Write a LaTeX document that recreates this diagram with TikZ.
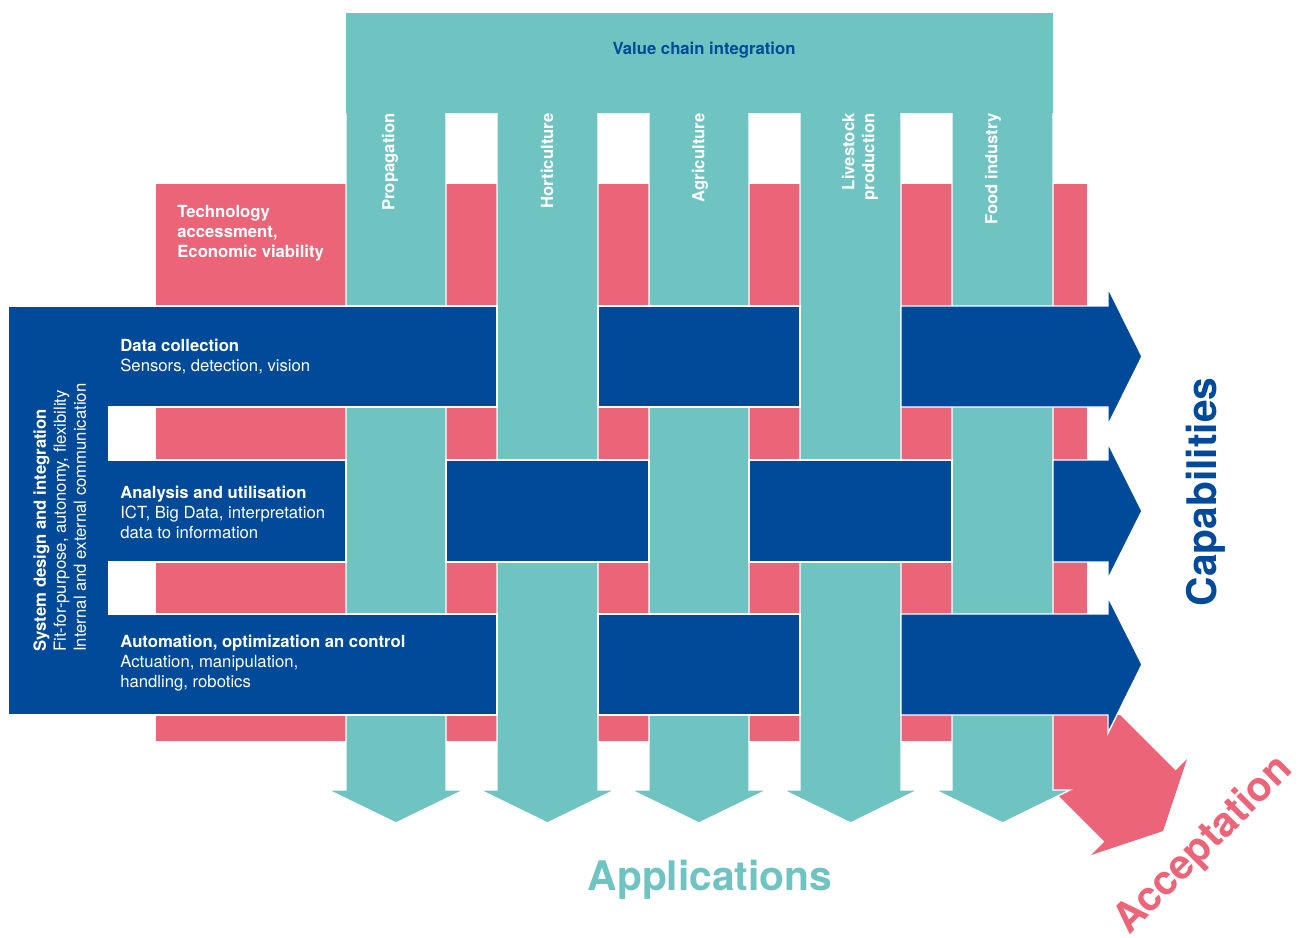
\documentclass[tikz,border=0pt]{standalone}
\usepackage{fontspec}
\setmainfont{TeX Gyre Heros}
\usepackage{tikz}
\definecolor{tealband}{RGB}{111,196,194}
\definecolor{navyband}{RGB}{0,74,153}
\definecolor{roseband}{RGB}{236,100,120}

\begin{document}
\begin{tikzpicture}[x=0.02cm,y=-0.02cm,
    rosepart/.style={fill=roseband,draw=white,line width=0.8pt},
    tealpart/.style={fill=tealband,draw=white,line width=0.8pt},
    navypart/.style={fill=navyband,draw=white,line width=0.8pt},
    collabel/.style={rotate=90,anchor=east,inner sep=0pt,text=white,align=right,font=\bfseries\fontsize{9.5}{11.4}\selectfont},
    rowtext/.style={anchor=west,inner sep=0pt,text=white,align=left,font=\fontsize{9.5}{11.4}\selectfont},
    bigtitle/.style={inner sep=0pt,font=\bfseries\fontsize{23.2}{28}\selectfont}]
    \useasboundingbox (0,0) rectangle (1305,937);
    %
    \path[rosepart] (155,183) rectangle (1088,742);
    \path[fill=roseband] (1053,715) -- (1120,715) -- (1175.5,770.5) -- (1187,759) -- (1163,831)
        -- (1091,855) -- (1104.5,841.5) -- (1053,790) -- cycle;
    %
    \path[tealpart] (346,13) -- (446,13) -- (446,790) -- (464,790) -- (396,823) -- (328,790) -- (346,790) -- cycle;
    \path[tealpart] (497,13) -- (598,13) -- (598,790) -- (615,790) -- (547.5,823) -- (480,790) -- (497,790) -- cycle;
    \path[tealpart] (649,13) -- (749,13) -- (749,790) -- (767,790) -- (699,823) -- (631,790) -- (649,790) -- cycle;
    \path[tealpart] (800,13) -- (901,13) -- (901,790) -- (918,790) -- (850.5,823) -- (783,790) -- (800,790) -- cycle;
    \path[tealpart] (952,13) -- (1053,13) -- (1053,790) -- (1070,790) -- (1002.5,823) -- (935,790) -- (952,790) -- cycle;
    \path[fill=tealband] (346,13) rectangle (1053,113);
    %
    \path[navypart] (8,306) -- (497,306) -- (497,407) -- (109,407) -- (109,460) -- (346,460) -- (346,562)
        -- (109,562) -- (109,614) -- (497,614) -- (497,715) -- (8,715) -- cycle;
    \path[navypart] (598,306) rectangle (800,407);
    \path[navypart] (901,306) -- (1108,306) -- (1108,288) -- (1142,356.5) -- (1108,425) -- (1108,407) -- (901,407) -- cycle;
    \path[navypart] (446,460) rectangle (649,562);
    \path[navypart] (749,460) rectangle (952,562);
    \path[navypart] (1053,460) -- (1108,460) -- (1108,443) -- (1142,511) -- (1108,579) -- (1108,562) -- (1053,562) -- cycle;
    \path[navypart] (598,614) rectangle (800,715);
    \path[navypart] (901,614) -- (1108,614) -- (1108,597) -- (1142,664.5) -- (1108,733) -- (1108,715) -- (901,715) -- cycle;
    %
    \node[inner sep=0pt,text=navyband,font=\bfseries\fontsize{9.5}{11.4}\selectfont] (chain) at (704,50) {Value chain integration};
    \node[collabel] (prop) at (390,113) {Propagation};
    \node[collabel] (hort) at (547,113) {Horticulture};
    \node[collabel] (agri) at (700,113) {Agriculture};
    \node[collabel] (live) at (860,113) {Livestock\\production};
    \node[collabel] (food) at (993,113) {Food industry};
    %
    \node[rowtext,anchor=north west] (tech) at (177,205) {\textbf{Technology}\\\textbf{accessment,}\\\textbf{Economic viability}};
    \node[rowtext,rotate=90,anchor=north west] (sysdes) at (33,652)
        {\textbf{System design and integration}\\Fit-for-purpose, autonomy, flexibility\\Internal and external communication};
    \node[rowtext] (datacol) at (120,356.5) {\textbf{Data collection}\\Sensors, detection, vision};
    \node[rowtext] (analysis) at (120,512) {\textbf{Analysis and utilisation}\\ICT, Big Data, interpretation\\data to information};
    \node[rowtext] (automation) at (120,663) {\textbf{Automation, optimization an control}\\Actuation, manipulation,\\handling, robotics};
    %
    \node[bigtitle,text=tealband] (apps) at (710,880) {Applications};
    \node[bigtitle,text=navyband,rotate=90] (caps) at (1206,492) {Capabilities};
    \node[bigtitle,text=roseband,rotate=45] (accept) at (1204,846) {Acceptation};
\end{tikzpicture}
\end{document}
